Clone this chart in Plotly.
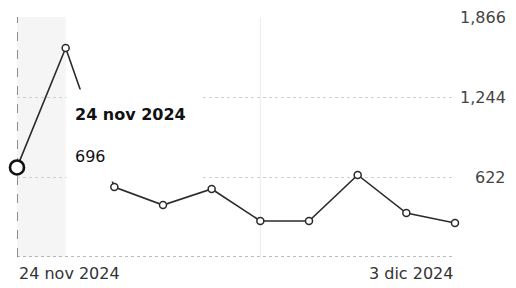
import plotly.graph_objects as go

dates = ["2024-11-24", "2024-11-25", "2024-11-26", "2024-11-27", "2024-11-28",
         "2024-11-29", "2024-11-30", "2024-12-01", "2024-12-02", "2024-12-03"]
values = [696, 1625, 544, 404, 529, 280, 280, 638, 342, 264]

y_ticks = [622, 1244, 1866]
y_tick_labels = ["622", "1,244", "1,866"]
x_tick_dates = ["2024-11-24", "2024-12-03"]
x_tick_labels = ["24 nov 2024", "3 dic 2024"]

hover_index = 0
hover_date_label = "24 nov 2024"
hover_value_label = "696"

FONT = "DejaVu Sans"
DARK = "#2b2b2b"

fig = go.Figure()

fig.add_trace(go.Scatter(
    x=dates, y=values, mode="lines+markers",
    line=dict(color=DARK, width=1.6),
    marker=dict(size=7, color="white", line=dict(color=DARK, width=1.5)),
    hoverinfo="skip", showlegend=False, cliponaxis=False,
))

# highlighted (hovered) point
fig.add_trace(go.Scatter(
    x=[dates[hover_index]], y=[values[hover_index]], mode="markers",
    marker=dict(size=14, color="white", line=dict(color="#111", width=2.6)),
    hoverinfo="skip", showlegend=False, cliponaxis=False,
))

# faint hover band
fig.add_vrect(x0=dates[0], x1=dates[1], fillcolor="#f5f5f5", line_width=0, layer="below")

# faint vertical guide
fig.add_shape(type="line", xref="x", yref="y", x0=dates[5], x1=dates[5], y0=0, y1=y_ticks[-1],
              line=dict(color="#ececec", width=1), layer="below")

# hover spike line
fig.add_shape(type="line", xref="x", yref="y", x0=dates[hover_index], x1=dates[hover_index],
              y0=0, y1=y_ticks[-1], line=dict(color="#555", width=1.3, dash="dash"), layer="below")

# baseline
fig.add_shape(type="line", xref="paper", yref="y", x0=0, x1=1, y0=0, y1=0,
              line=dict(color="#777", width=1, dash="dot"), layer="below")

# y tick labels (right aligned)
for v, t in zip(y_ticks, y_tick_labels):
    fig.add_annotation(x=1, xref="paper", y=v, yref="y", text=t, showarrow=False,
                       xanchor="right", yanchor="middle", xshift=53,
                       font=dict(family=FONT, size=16, color="#444"))

# x tick labels
for i, (d, t) in enumerate(zip(x_tick_dates, x_tick_labels)):
    fig.add_annotation(x=d, xref="x", y=0, yref="paper", text=t, showarrow=False,
                       xanchor="left" if i == 0 else "right", yanchor="top", yshift=-5,
                       font=dict(family=FONT, size=16, color="#333"))

# tooltip
fig.add_annotation(
    x=dates[hover_index], y=values[hover_index], xref="x", yref="y",
    text=f"<b>{hover_date_label}</b><br><br>{hover_value_label}",
    showarrow=False, xanchor="center", yanchor="middle",
    xshift=117, yshift=32, width=118, height=75, borderpad=8,
    align="left", valign="middle", bgcolor="white",
    font=dict(family=FONT, size=16, color="#111"),
)

fig.update_layout(
    width=516, height=288,
    margin=dict(l=17, r=61, t=17, b=31, autoexpand=False),
    paper_bgcolor="white", plot_bgcolor="white",
    xaxis=dict(range=[dates[0], dates[-1]], showgrid=False, zeroline=False,
               showticklabels=False, showline=False, ticks=""),
    yaxis=dict(range=[0, y_ticks[-1]], tickvals=y_ticks, showticklabels=False,
               showgrid=True, gridcolor="#cfcfcf", griddash="dot", gridwidth=1,
               zeroline=False, showline=False, ticks=""),
    showlegend=False,
)

fig.write_html("out.html", config={"displayModeBar": False},
               post_script="document.body.style.margin='0';document.body.style.overflow='hidden';")
